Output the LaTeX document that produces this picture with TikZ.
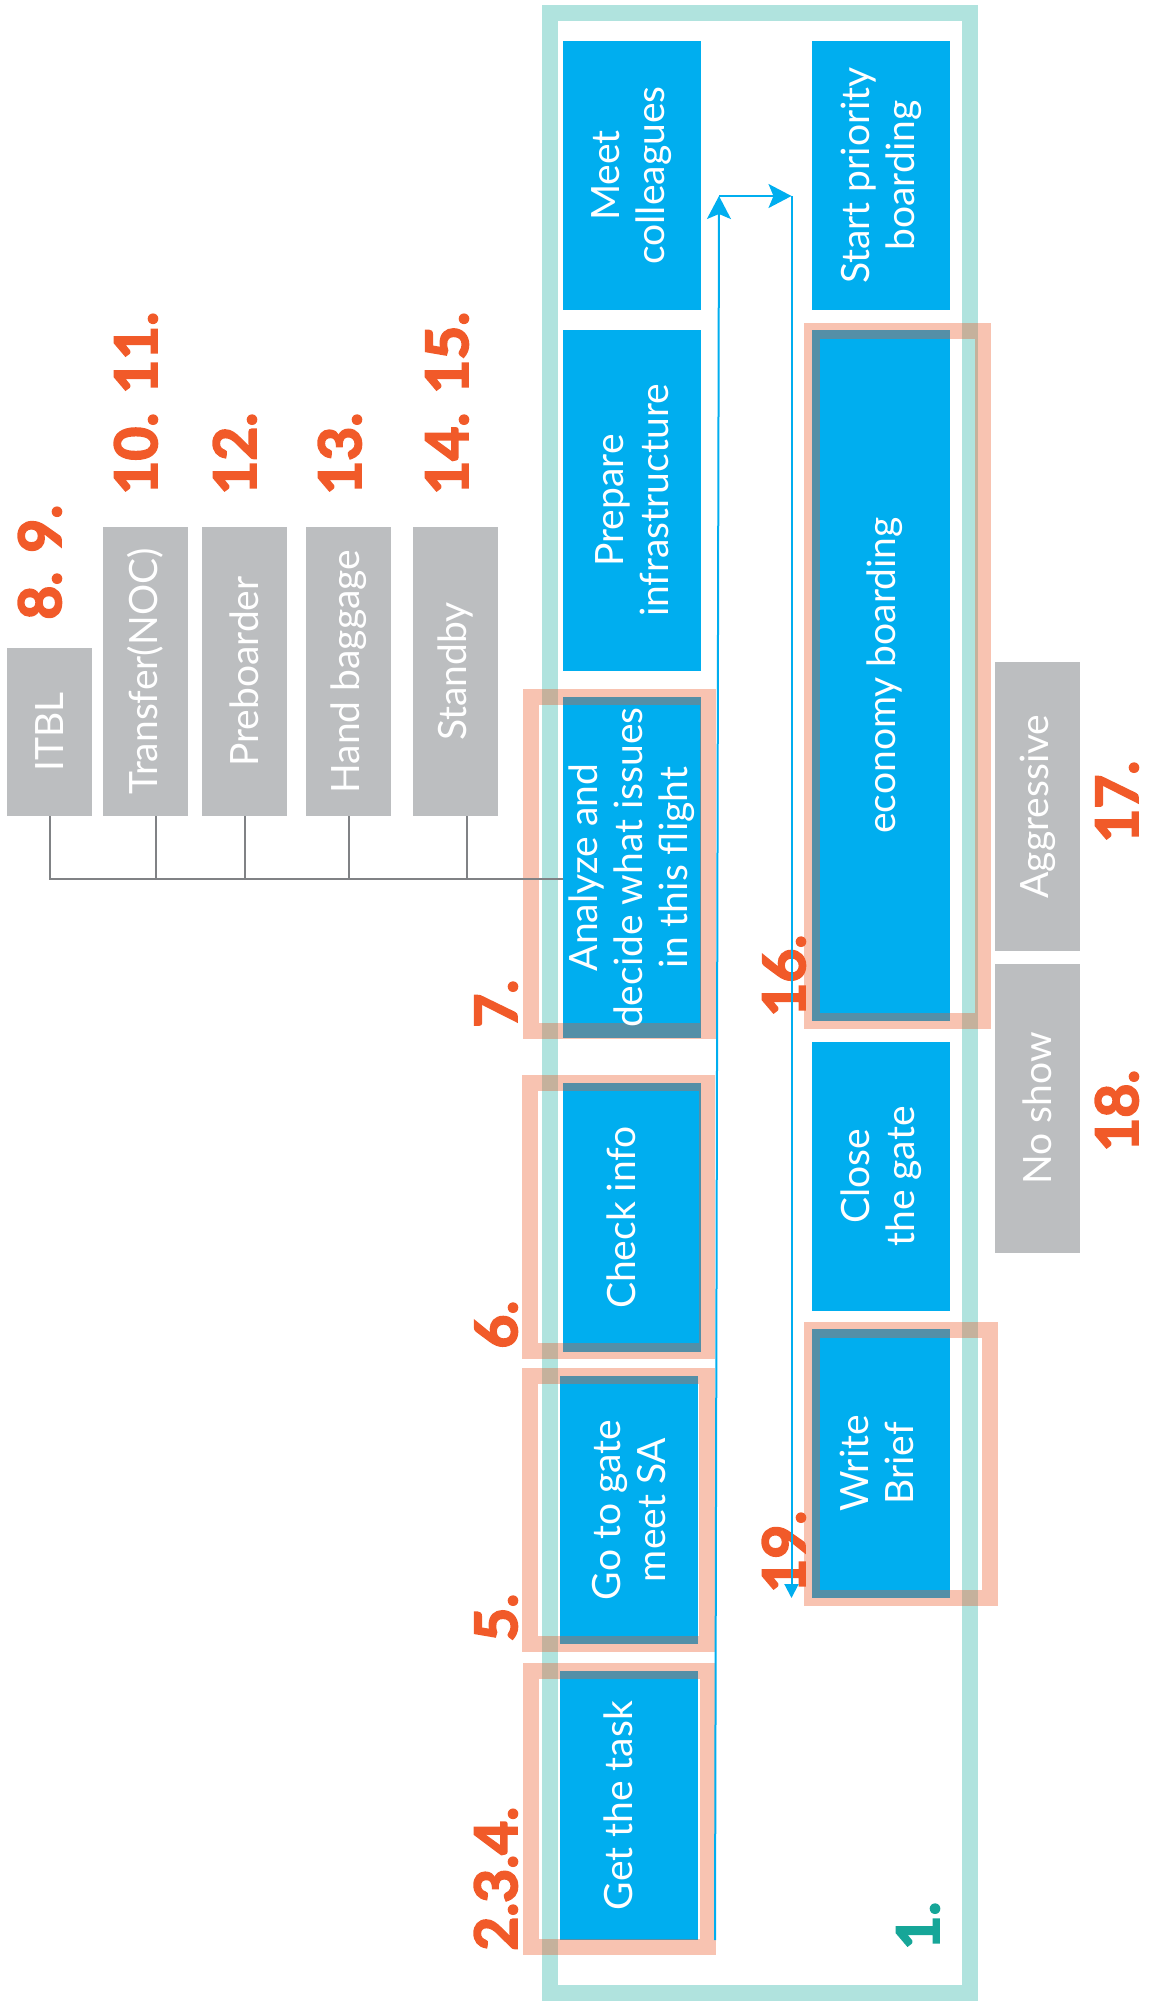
\documentclass[tikz,border=0pt]{standalone}
\usepackage{fontspec}
\setmainfont{Lato}
\newfontfamily\numfont{Lato}[BoldFeatures={FakeBold=3}]
\usetikzlibrary{arrows.meta,fit,calc}
\definecolor{bluec}{RGB}{0,174,239}
\definecolor{greyc}{RGB}{188,190,192}
\definecolor{tealc}{RGB}{176,227,222}
\definecolor{orangec}{RGB}{241,90,41}
\definecolor{tealtext}{RGB}{22,166,152}
\definecolor{salmonc}{RGB}{235,90,40}
\definecolor{greyline}{RGB}{128,130,133}
\tikzset{
  bbox/.style={fill=bluec, draw=none, inner sep=0pt, outer sep=0pt},
  gbox/.style={fill=greyc, draw=none, inner sep=0pt, outer sep=0pt},
  tx/.style={rotate=90, text=white, align=center, inner sep=0pt,
    font=\fontsize{19.5}{22.5}\selectfont},
  num/.style={rotate=90, text=orangec, inner sep=0pt, anchor=base west,
    font=\numfont\bfseries\fontsize{29.3}{32}\selectfont},
  hl/.style={draw=salmonc, draw opacity=0.36, line width=8pt},
  frame/.style={draw=tealc, line width=8pt},
  gl/.style={draw=greyline, line width=1pt},
  bl/.style={draw=bluec, line width=1pt},
}
\begin{document}
\begin{tikzpicture}[x=0.5pt,y=-0.5pt]
\useasboundingbox (0,0) rectangle (1149,2004);
% outer teal frame
\draw[frame] (550,13) rectangle (969.5,1992.5);
% blue boxes, left column
\node[bbox, fit={(563,41) (701,310)}] (mc) {};
\node[bbox, fit={(563,330) (701,671)}] (pi) {};
\node[bbox, fit={(563,697) (701,1038)}] (an) {};
\node[bbox, fit={(563,1083) (701,1352)}] (ci) {};
\node[bbox, fit={(560,1376) (698,1644)}] (gg) {};
\node[bbox, fit={(560,1671) (698,1940)}] (gt) {};
% blue boxes, right column
\node[bbox, fit={(812,41) (950,310)}] (sp) {};
\node[bbox, fit={(812,330) (950,1021)}] (eb) {};
\node[bbox, fit={(812,1042) (950,1311)}] (cg) {};
\node[bbox, fit={(812,1329) (950,1598)}] (wb) {};
% grey boxes
\node[gbox, fit={(7,648) (92,816)}] (it) {};
\node[gbox, fit={(103,527) (188,816)}] (tr) {};
\node[gbox, fit={(202,527) (287,816)}] (pb) {};
\node[gbox, fit={(306,527) (391,816)}] (hb) {};
\node[gbox, fit={(413,527) (498,816)}] (sb) {};
\node[gbox, fit={(995,662) (1080,951)}] (ag) {};
\node[gbox, fit={(995,964) (1080,1253)}] (ns) {};
% highlight frames
\draw[hl] (531,697) rectangle (708,1031);
\draw[hl] (530,1083) rectangle (707,1351);
\draw[hl] (530,1376) rectangle (707,1644);
\draw[hl] (531,1671) rectangle (708,1947);
\draw[hl] (812,330.5) rectangle (983,1020.5);
\draw[hl] (812,1330) rectangle (989.5,1598);
% texts
\node[tx] (tmc) at (mc.center) {Meet\\colleagues};
\node[tx] (tpi) at (pi.center) {Prepare\\infrastructure};
\node[tx] (tan) at (an.center) {Analyze and\\decide what issues\\in this flight};
\node[tx] (tci) at ($(ci.center)+(-11,0)$) {Check info};
\node[tx] (tgg) at (gg.center) {Go to gate\\meet SA};
\node[tx] (tgt) at ($(gt.center)+(-11,0)$) {Get the task};
\node[tx] (tsp) at (sp.center) {Start priority\\boarding};
\node[tx] (teb) at ($(eb.center)+(4,0)$) {economy boarding};
\node[tx] (tcg) at (cg.center) {Close\\the gate};
\node[tx] (twb) at ($(wb.center)+(-4,0)$) {Write\\Brief};
\node[tx] (tit) at (it.center) {ITBL};
\node[tx] (ttr) at (tr.center) {Transfer(NOC)};
\node[tx] (tpb) at (pb.center) {Preboarder};
\node[tx] (thb) at (hb.center) {Hand baggage};
\node[tx] (tsb) at (sb.center) {Standby};
\node[tx] (tag) at (ag.center) {Aggressive};
\node[tx] (tns) at (ns.center) {No show};
% number labels
\node[num] (n89) at (61,620) {8. 9.};
\node[num] (n1011) at (157,495) {10. 11.};
\node[num] (n12) at (256,495) {12.};
\node[num] (n13) at (361,495) {13.};
\node[num] (n1415) at (468,495) {14. 15.};
\node[num] (n7) at (517,1028) {7.};
\node[num] (n6) at (517,1349) {6.};
\node[num] (n5) at (517,1642) {5.};
\node[num] (n234) at (517,1951) {2.3.4.};
\node[num] (n16) at (805,1017) {16.};
\node[num] (n17) at (1138,843) {17.};
\node[num] (n18) at (1138,1152) {18.};
\node[num] (n19) at (805,1593) {19.};
\node[num, text=tealtext] (n1) at (939,1950) {1.};
% grey connectors
\coordinate (j) at (563,879);
\draw[gl] (j) -| (it.south);
\draw[gl] ([xshift=5.25pt]tr.south) -- ([xshift=5.25pt]tr.south |- j);
\draw[gl] (pb.south) -- (pb.south |- j);
\draw[gl] (hb.south) -- (hb.south |- j);
\draw[gl] ([xshift=5.75pt]sb.south) -- ([xshift=5.75pt]sb.south |- j);
% blue flow connectors
\coordinate (p0) at (715,1940);
\coordinate (p1) at (719,196);
\coordinate (p2) at (791.5,196);
\draw[bl, -{Stealth[length=11.5pt, width=12pt, inset=2.5pt]}] (p0) -- (p1);
\draw[bl, -{Stealth[length=11.5pt, width=12pt, inset=2.5pt]}] (p1) -- (p2);
\draw[bl, -{Triangle[length=7pt, width=7pt]}] (p2) -- (p2 |- wb.south);
\end{tikzpicture}
\end{document}
